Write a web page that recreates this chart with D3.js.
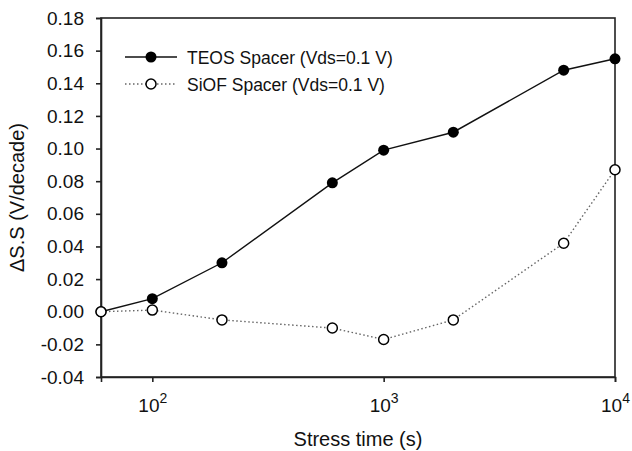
<!DOCTYPE html>
<html>
<head>
<meta charset="utf-8">
<script src="https://cdn.jsdelivr.net/npm/d3@7"></script>
<style>
  body { margin: 0; background: #fff; }
  text { font-family: Arial, "Liberation Sans", sans-serif; fill: #111; }
</style>
</head>
<body>
<svg class="chart"></svg>
<script>
const stressTimes = [60, 100, 200, 600, 1000, 2000, 6000, 10000];
const teosValues = [0.000, 0.008, 0.030, 0.079, 0.099, 0.110, 0.148, 0.155];
const siofValues = [0.000, 0.001, -0.005, -0.010, -0.017, -0.005, 0.042, 0.087];
const yTicks = [-0.04, -0.02, 0, 0.02, 0.04, 0.06, 0.08, 0.10, 0.12, 0.14, 0.16, 0.18];
const xTicks = [100, 1000, 10000];
const seriesNames = ['TEOS Spacer (Vds=0.1 V)', 'SiOF Spacer (Vds=0.1 V)'];

const width = 632, height = 451;
const margin = { top: 18, right: 17, bottom: 74, left: 101 };

const svg = d3.select('svg.chart')
  .attr('width', width)
  .attr('height', height);

const x = d3.scaleLog().domain([60, 10000]).range([margin.left, width - margin.right]);
const y = d3.scaleLinear().domain([-0.04, 0.18]).range([height - margin.bottom, margin.top]);
const fmt = d3.format('.2f');

// frame
svg.append('rect')
  .attr('x', margin.left).attr('y', margin.top)
  .attr('width', width - margin.right - margin.left)
  .attr('height', height - margin.bottom - margin.top)
  .attr('fill', 'none').attr('stroke', '#222').attr('stroke-width', 1.6);

const yAxis = svg.append('g')
  .attr('transform', `translate(${margin.left},0)`)
  .call(d3.axisLeft(y).tickValues(yTicks)
    .tickFormat(d => fmt(d).replace('\u2212', '-'))
    .tickSize(5).tickPadding(12));
yAxis.selectAll('text').style('font-size', '19px');

const xAxis = svg.append('g')
  .attr('transform', `translate(0,${height - margin.bottom})`)
  .call(d3.axisBottom(x).tickValues(xTicks).tickFormat('').tickSize(5));

xAxis.selectAll('.tick').append('text')
  .attr('y', 35)
  .attr('text-anchor', 'middle')
  .style('font-size', '19px')
  .each(function (d) {
    const t = d3.select(this);
    t.append('tspan').text('10');
    t.append('tspan').attr('dy', -9).style('font-size', '14px').text(Math.round(Math.log10(d)));
  });

svg.selectAll('.domain').attr('stroke', '#222').attr('stroke-width', 1.6);
svg.selectAll('.tick line').attr('stroke', '#222').attr('stroke-width', 1.6);

// axis titles
svg.append('text')
  .attr('x', (margin.left + width - margin.right) / 2)
  .attr('y', 446)
  .attr('text-anchor', 'middle')
  .style('font-size', '20px')
  .text('Stress time (s)');

svg.append('text')
  .attr('transform', `translate(24,${(margin.top + height - margin.bottom) / 2}) rotate(-90)`)
  .attr('text-anchor', 'middle')
  .style('font-size', '20px')
  .text('ΔS.S (V/decade)');

const line = d3.line().x(d => x(d[0])).y(d => y(d[1]));
const teos = stressTimes.map((t, i) => [t, teosValues[i]]);
const siof = stressTimes.map((t, i) => [t, siofValues[i]]);

svg.append('path').datum(siof)
  .attr('d', line).attr('fill', 'none')
  .attr('stroke', '#666').attr('stroke-width', 1.4).attr('stroke-dasharray', '1.5,2.5');

svg.append('path').datum(teos)
  .attr('d', line).attr('fill', 'none')
  .attr('stroke', '#111').attr('stroke-width', 1.4);

svg.selectAll('circle.teos').data(teos)
  .enter().append('circle').attr('class', 'teos')
  .attr('cx', d => x(d[0])).attr('cy', d => y(d[1])).attr('r', 5.5)
  .attr('fill', '#000');

svg.selectAll('circle.siof').data(siof)
  .enter().append('circle').attr('class', 'siof')
  .attr('cx', d => x(d[0])).attr('cy', d => y(d[1])).attr('r', 5)
  .attr('fill', '#fff').attr('stroke', '#000').attr('stroke-width', 1.5);

// legend
const legend = svg.append('g').attr('transform', 'translate(125,57)');
seriesNames.forEach((name, i) => {
  const row = legend.append('g').attr('transform', `translate(0,${i * 27})`);
  row.append('line').attr('x1', 0).attr('x2', 52)
    .attr('stroke', i === 0 ? '#111' : '#666').attr('stroke-width', 1.4)
    .attr('stroke-dasharray', i === 0 ? null : '1.5,2.5');
  row.append('circle').attr('cx', 26).attr('r', i === 0 ? 5.5 : 5)
    .attr('fill', i === 0 ? '#000' : '#fff').attr('stroke', '#000').attr('stroke-width', i === 0 ? 0 : 1.5);
  row.append('text').attr('x', 62).attr('y', 6.5).style('font-size', '17.5px').text(name);
});
</script>
</body>
</html>
